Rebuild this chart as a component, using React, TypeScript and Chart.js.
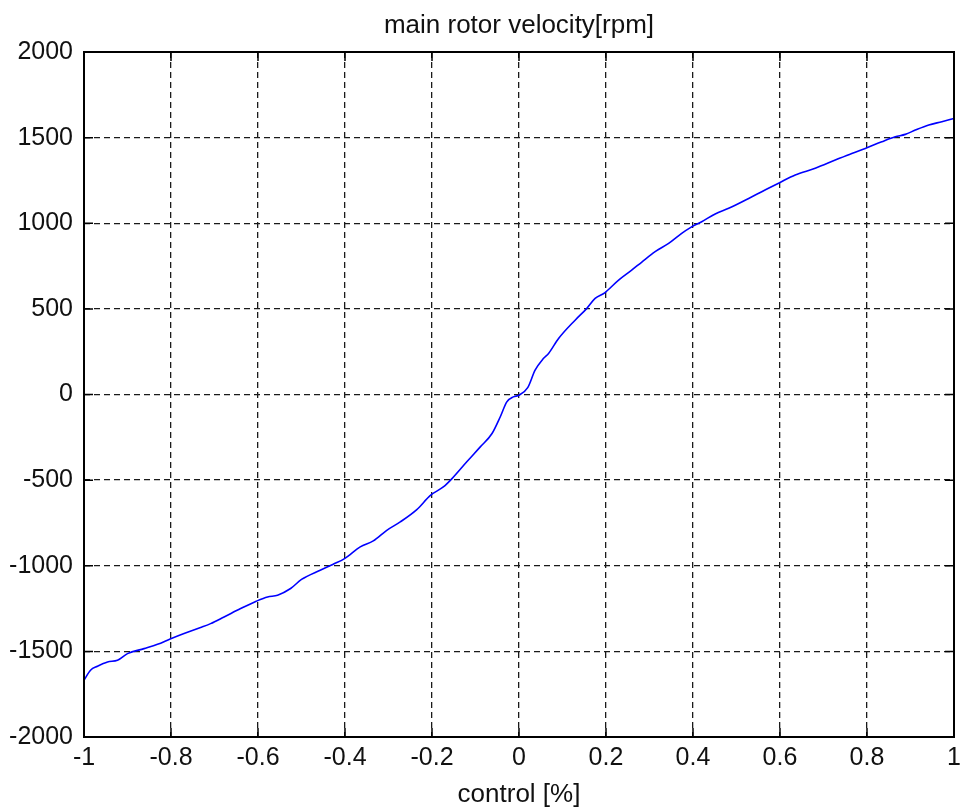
import React, { useEffect, useRef } from "react";
import { Chart, registerables } from "chart.js";

Chart.register(...registerables);

const titleText = "main rotor velocity[rpm]";
const xAxisTitle = "control [%]";

const xTickValues = [-1, -0.8, -0.6, -0.4, -0.2, 0, 0.2, 0.4, 0.6, 0.8, 1];
const yTickValues = [-2000, -1500, -1000, -500, 0, 500, 1000, 1500, 2000];

const controlValues = [
  -1.0, -0.985, -0.969, -0.946, -0.923, -0.9, -0.862, -0.831, -0.802, -0.77,
  -0.732, -0.709, -0.678, -0.64, -0.604, -0.578, -0.555, -0.525, -0.5, -0.457,
  -0.427, -0.401, -0.365, -0.335, -0.304, -0.273, -0.235, -0.203, -0.174, -0.154,
  -0.12, -0.089, -0.062, -0.043, -0.028, -0.013, 0.0, 0.02, 0.037, 0.056,
  0.068, 0.091, 0.129, 0.156, 0.175, 0.197, 0.229, 0.259, 0.283, 0.313,
  0.344, 0.374, 0.395, 0.42, 0.451, 0.482, 0.528, 0.558, 0.599, 0.635,
  0.681, 0.727, 0.765, 0.796, 0.834, 0.865, 0.888, 0.911, 0.942, 0.972, 1.0,
];

const velocityValues = [
  -1669, -1610, -1587, -1562, -1552, -1513, -1484, -1459, -1428, -1396,
  -1361, -1338, -1299, -1250, -1207, -1182, -1172, -1133, -1080, -1026,
  -991, -958, -890, -855, -793, -744, -672, -588, -540, -491,
  -393, -306, -228, -130, -43, -14, -4, 40, 142, 210,
  240, 327, 434, 503, 561, 594, 668, 726, 775, 834,
  882, 941, 976, 1009, 1054, 1087, 1145, 1184, 1237, 1282,
  1321, 1369, 1408, 1437, 1476, 1505, 1519, 1544, 1574, 1593, 1612,
];

const FONT = "'Liberation Sans', Arial, sans-serif";

const framePlugin = {
  id: "matlabFrame",
  afterDatasetsDraw(chart: any) {
    const { ctx, chartArea, scales } = chart;
    const { left, right, top, bottom } = chartArea;
    const L = 9;
    ctx.save();
    ctx.strokeStyle = "#000";
    ctx.lineWidth = 1.5;
    ctx.setLineDash([]);
    ctx.beginPath();
    xTickValues.forEach((v) => {
      const px = scales.x.getPixelForValue(v);
      ctx.moveTo(px, bottom);
      ctx.lineTo(px, bottom - L);
      ctx.moveTo(px, top);
      ctx.lineTo(px, top + L);
    });
    yTickValues.forEach((v) => {
      const py = scales.y.getPixelForValue(v);
      ctx.moveTo(left, py);
      ctx.lineTo(left + L, py);
      ctx.moveTo(right, py);
      ctx.lineTo(right - L, py);
    });
    ctx.stroke();
    ctx.lineWidth = 2;
    ctx.strokeRect(left, top, right - left, bottom - top);
    ctx.fillStyle = "#111";
    ctx.font = `26px ${FONT}`;
    ctx.textAlign = "center";
    ctx.textBaseline = "middle";
    ctx.fillText(titleText, (left + right) / 2, 26);
    ctx.restore();
  },
};

function fmt(v: number) {
  const r = Math.round(v * 10) / 10;
  return String(r);
}

function zeroPad(scale: any) {
  scale.paddingLeft = 0;
  scale.paddingRight = 0;
  scale.paddingTop = 0;
  scale.paddingBottom = 0;
}

export default function App() {
  const ref = useRef<HTMLCanvasElement | null>(null);

  useEffect(() => {
    document.body.style.margin = "0";
    const canvas = ref.current;
    if (!canvas) return;
    const data = controlValues.map((x, i) => ({ x, y: velocityValues[i] }));
    const chart = new Chart(canvas, {
      type: "line",
      data: {
        datasets: [
          {
            data,
            borderColor: "#0000ff",
            borderWidth: 1.6,
            pointRadius: 0,
            cubicInterpolationMode: "monotone",
            fill: false,
          },
        ],
      },
      options: {
        responsive: false,
        animation: false,
        devicePixelRatio: 1,
        layout: { padding: { top: 52, right: 6, left: 0, bottom: 0 } },
        plugins: {
          legend: { display: false },
          tooltip: { enabled: false },
          title: { display: false },
        },
        scales: {
          x: {
            type: "linear",
            min: -1,
            max: 1,
            afterBuildTicks: (scale: any) => {
              scale.ticks = xTickValues.map((value) => ({ value }));
            },
            afterFit: (scale: any) => {
              scale.height = 75;
              zeroPad(scale);
            },
            grid: {
              color: "#1a1a1a",
              lineWidth: 1.3,
              drawTicks: false,
            },
            border: { display: false, dash: [6, 4] },
            ticks: {
              autoSkip: false,
              maxRotation: 0,
              padding: 6,
              color: "#111",
              font: { family: FONT, size: 25 },
              callback: (v: any) => fmt(Number(v)),
            },
            title: {
              display: true,
              text: xAxisTitle,
              color: "#111",
              font: { family: FONT, size: 26, lineHeight: 1.2 },
              padding: { top: 0, bottom: 1.5 },
            },
          },
          y: {
            type: "linear",
            min: -2000,
            max: 2000,
            afterBuildTicks: (scale: any) => {
              scale.ticks = yTickValues.map((value) => ({ value }));
            },
            afterFit: (scale: any) => {
              scale.width = 84;
              zeroPad(scale);
            },
            grid: {
              color: "#1a1a1a",
              lineWidth: 1.3,
              drawTicks: false,
            },
            border: { display: false, dash: [6, 4] },
            ticks: {
              padding: 11,
              color: "#111",
              font: { family: FONT, size: 25 },
              callback: (v: any) => String(Math.round(Number(v))),
            },
          },
        },
      },
      plugins: [framePlugin],
    });
    return () => chart.destroy();
  }, []);

  return (
    <div style={{ width: 960, height: 812, background: "#fff" }}>
      <canvas ref={ref} width={960} height={812} />
    </div>
  );
}
